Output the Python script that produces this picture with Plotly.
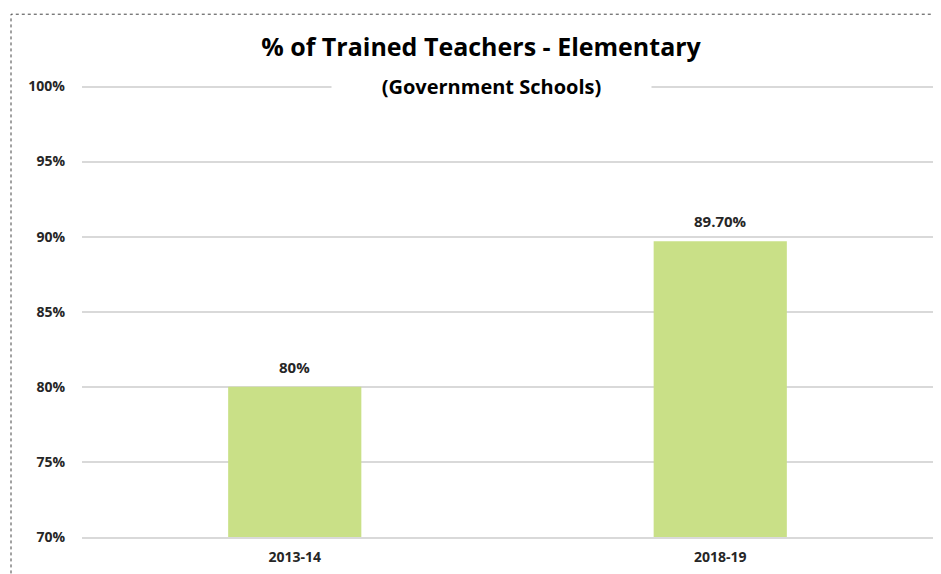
import plotly.graph_objects as go

years = ["2013-14", "2018-19"]
trained_pct = [80.0, 89.7]
bar_labels = ["80%", "89.70%"]
y_ticks = [70, 75, 80, 85, 90, 95, 100]
y_tick_labels = ["70%", "75%", "80%", "85%", "90%", "95%", "100%"]

font_main = "'Open Sans', Lato, sans-serif"
txt_color = "#262626"

# page body has an 8px margin, so plot-area margins are offset by it
fig = go.Figure()
fig.add_trace(
    go.Bar(
        x=years,
        y=trained_pct,
        marker=dict(color="#C9E087", line=dict(width=0)),
        width=0.313,
        hoverinfo="x+y",
    )
)

for yr, val, lbl in zip(years, trained_pct, bar_labels):
    fig.add_annotation(
        x=yr, y=val, text="<b>" + lbl + "</b>",
        showarrow=False, yanchor="bottom", yshift=8,
        font=dict(family=font_main, size=15, color=txt_color),
    )

fig.update_layout(
    width=941,
    height=574,
    margin=dict(l=74, r=16, t=74, b=45),
    plot_bgcolor="white",
    paper_bgcolor="white",
    showlegend=False,
    title=dict(
        text="<b>% of Trained Teachers - Elementary</b>",
        x=(481 - 8) / 941,
        xanchor="center",
        y=1 - (47 - 8) / 574,
        yanchor="middle",
        font=dict(family=font_main, size=25, color="black"),
    ),
    font=dict(family=font_main, color=txt_color),
)

# subtitle sits on the 100% gridline with a white box behind it
fig.add_annotation(
    text="<b>(Government Schools)</b>",
    xref="paper", yref="y",
    x=(491 - 82) / 851, y=100,
    xanchor="center", yanchor="middle",
    showarrow=False,
    width=317,
    bgcolor="white",
    font=dict(family=font_main, size=20, color="black"),
)

# dotted frame of the chart area
fig.add_shape(
    type="rect",
    xref="paper", yref="paper",
    x0=(11 - 82) / 851, x1=(935 - 82) / 851,
    y0=-0.2, y1=1.149,
    line=dict(color="#444444", width=1, dash="dot"),
    fillcolor="rgba(0,0,0,0)",
    layer="above",
)

fig.update_yaxes(
    range=[70, 100.3],
    tickvals=y_ticks,
    ticktext=y_tick_labels,
    showgrid=True,
    gridcolor="#D9D9D9",
    gridwidth=1.5,
    zeroline=False,
    showline=False,
    ticks="",
    ticklabelstandoff=16,
    tickfont=dict(family=font_main, size=14, color=txt_color, weight="bold"),
)
fig.update_xaxes(
    showline=True,
    linecolor="#D9D9D9",
    linewidth=1.5,
    ticks="",
    ticklabelstandoff=6,
    tickfont=dict(family=font_main, size=14, color=txt_color, weight="bold"),
)

fig.write_html("out.html")
